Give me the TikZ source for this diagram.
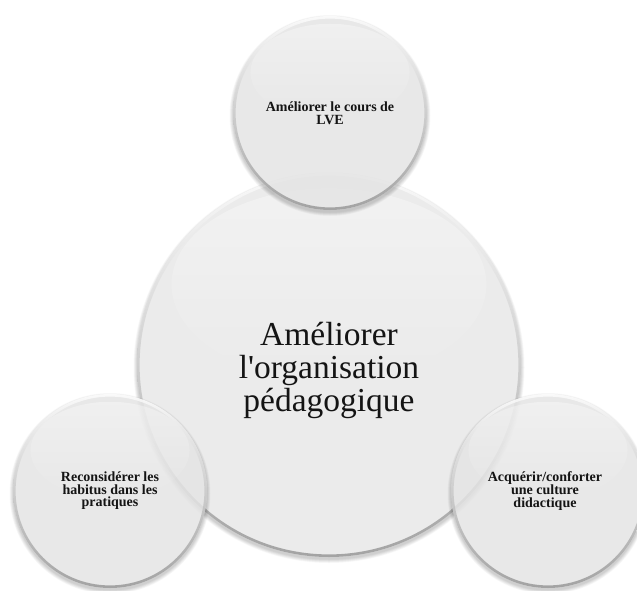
\documentclass[tikz,border=0pt]{standalone}
\usepackage{fontspec}
\setmainfont{Liberation Serif}[Ligatures=TeXOff]
\usetikzlibrary{fadings}
\definecolor{bubfill}{HTML}{EFEFEF}
\definecolor{inktext}{HTML}{141414}
\tikzfading[name=glossfade, top color=transparent!35, bottom color=transparent!100]
\newcommand\bubbledraw[4]{% x, y, r, fill opacity
  \foreach \k in {0,...,7}{\fill[black,opacity=0.022] (#1,#2+2.5) circle[radius=#3+3.5-\k*0.5];}
  \fill[bubfill, fill opacity=#4] (#1,#2) circle[radius=#3];
  \fill[white, path fading=glossfade, fill opacity=0.55] (#1,#2-#3*0.42) ellipse[x radius=#3*0.82, y radius=#3*0.5];
  \shade[even odd rule, top color=white, bottom color=black!45, fill opacity=0.75]
     (#1,#2) circle[radius=#3] (#1,#2) circle[radius=#3-2.6];
}
\tikzset{
  bigtext/.style={align=center, inner sep=0pt, text=inktext,
    font=\fontsize{33.5}{33}\selectfont},
  smalltext/.style={align=center, inner sep=0pt, text=inktext,
    font=\fontsize{14}{12.6}\selectfont\bfseries},
}
\begin{document}
\begin{tikzpicture}[x=1pt,y=-1pt]
\useasboundingbox (0,0) rectangle (637,590);
\fill[white] (0,0) rectangle (637,590);
\clip (0,0) rectangle (637,590);
% central circle
\bubbledraw{329}{365}{192}{0.9}
% satellites
\bubbledraw{330}{113}{97}{0.8}
\bubbledraw{110}{491}{97}{0.8}
\bubbledraw{548}{491}{97}{0.8}
% texts
\node[bigtext] (centre) at (329,370) {Améliorer\\l'organisation\\pédagogique};
\node[smalltext] (haut) at (330,113) {Améliorer le cours de\\LVE};
\node[smalltext] (gauche) at (110,491) {Reconsidérer les\\habitus dans les\\pratiques};
\node[smalltext] (droite) at (545,491) {Acquérir/conforter\\une culture\\didactique};
\end{tikzpicture}
\end{document}
